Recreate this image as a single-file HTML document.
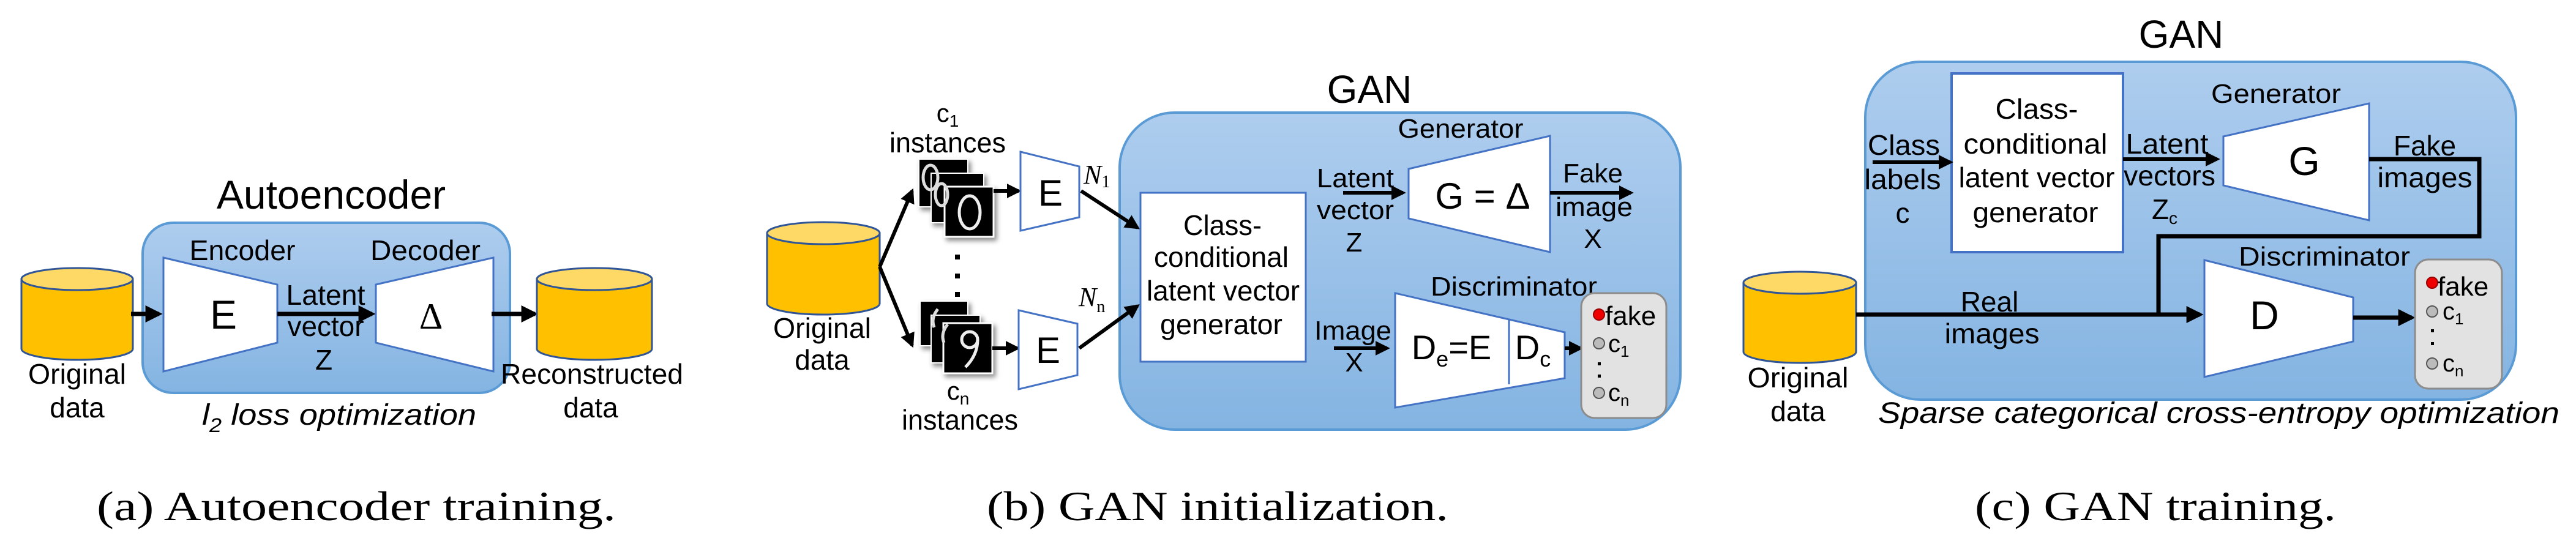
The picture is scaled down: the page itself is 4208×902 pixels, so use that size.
<!DOCTYPE html>
<html><head><meta charset="utf-8"><style>
html,body{margin:0;padding:0;background:#fff;}
svg{display:block;}
text{font-family:"Liberation Sans",sans-serif;fill:#000;}
.s{font-family:"Liberation Serif",serif;}
</style></head><body>
<svg width="4208" height="902" viewBox="0 0 4208 902" xmlns="http://www.w3.org/2000/svg">
<defs>
<linearGradient id="bg" x1="0" y1="0" x2="0" y2="1">
<stop offset="0" stop-color="#aecdee"/><stop offset="1" stop-color="#84b4e2"/>
</linearGradient>
<marker id="ar" markerWidth="4" markerHeight="4" refX="3.2" refY="2" orient="auto" markerUnits="strokeWidth">
<path d="M0,0 L4,2 L0,4 z" fill="#000"/>
</marker>
<filter id="sh" x="-20%" y="-20%" width="150%" height="150%"><feDropShadow dx="4" dy="5" stdDeviation="4" flood-color="#000" flood-opacity="0.45"/></filter>
</defs>

<!-- ============ Panel A ============ -->
<text x="541" y="341" font-size="66" text-anchor="middle">Autoencoder</text>
<rect x="233" y="364" width="600" height="278" rx="50" fill="url(#bg)" stroke="#5b9bd5" stroke-width="4"/>
<path d="M35,456 L35,570 A91,18 0 0 0 217,570 L217,456 Z" fill="#ffc000" stroke="#2f5597" stroke-width="3"/>
<ellipse cx="126" cy="456" rx="91" ry="18" fill="#ffd966" stroke="#2f5597" stroke-width="3"/>
<text x="126" y="627" font-size="46" text-anchor="middle" textLength="160" lengthAdjust="spacingAndGlyphs">Original</text>
<text x="126" y="682" font-size="46" text-anchor="middle">data</text>
<line x1="214" y1="513" x2="260" y2="513" stroke="#000" stroke-width="7" marker-end="url(#ar)"/>
<polygon points="267,421 453,465 453,560 267,607" fill="#fff" stroke="#4472c4" stroke-width="3"/>
<text x="396" y="425" font-size="46" text-anchor="middle" textLength="173" lengthAdjust="spacingAndGlyphs">Encoder</text>
<text x="365" y="537" font-size="66" text-anchor="middle">E</text>
<line x1="453" y1="513" x2="608" y2="513" stroke="#000" stroke-width="7" marker-end="url(#ar)"/>
<text x="532" y="498" font-size="46" text-anchor="middle" textLength="129" lengthAdjust="spacingAndGlyphs">Latent</text>
<text x="532" y="549" font-size="46" text-anchor="middle" textLength="125" lengthAdjust="spacingAndGlyphs">vector</text>
<text x="529" y="604" font-size="46" text-anchor="middle">Z</text>
<polygon points="614,465 806,421 806,607 614,560" fill="#fff" stroke="#4472c4" stroke-width="3"/>
<text x="695" y="425" font-size="46" text-anchor="middle" textLength="180" lengthAdjust="spacingAndGlyphs">Decoder</text>
<text x="704" y="537" font-size="60" text-anchor="middle" class="s">Δ</text>
<line x1="803" y1="513" x2="874" y2="513" stroke="#000" stroke-width="7" marker-end="url(#ar)"/>
<path d="M877,456 L877,570 A94,18 0 0 0 1065,570 L1065,456 Z" fill="#ffc000" stroke="#2f5597" stroke-width="3"/>
<ellipse cx="971" cy="456" rx="94" ry="18" fill="#ffd966" stroke="#2f5597" stroke-width="3"/>
<text x="967" y="627" font-size="46" text-anchor="middle" textLength="298" lengthAdjust="spacingAndGlyphs">Reconstructed</text>
<text x="965" y="682" font-size="46" text-anchor="middle">data</text>
<text x="330" y="694" font-size="48" font-style="italic" textLength="448" lengthAdjust="spacingAndGlyphs">l<tspan font-size="32" dy="12">2</tspan><tspan dy="-12"> loss optimization</tspan></text>
<text x="582" y="850" font-size="68" text-anchor="middle" class="s" textLength="848" lengthAdjust="spacingAndGlyphs">(a) Autoencoder training.</text>

<!-- ============ Panel B ============ -->
<text x="2237" y="168" font-size="64" text-anchor="middle">GAN</text>
<rect x="1829" y="184" width="916" height="518" rx="90" fill="url(#bg)" stroke="#5b9bd5" stroke-width="4"/>
<path d="M1253,381 L1253,496 A92,18 0 0 0 1437,496 L1437,381 Z" fill="#ffc000" stroke="#2f5597" stroke-width="3"/>
<ellipse cx="1345" cy="381" rx="92" ry="18" fill="#ffd966" stroke="#2f5597" stroke-width="3"/>
<text x="1343" y="552" font-size="46" text-anchor="middle" textLength="160" lengthAdjust="spacingAndGlyphs">Original</text>
<text x="1343" y="604" font-size="46" text-anchor="middle">data</text>
<line x1="1437" y1="436" x2="1490" y2="312" stroke="#000" stroke-width="6" marker-end="url(#ar)"/>
<line x1="1437" y1="436" x2="1490" y2="564" stroke="#000" stroke-width="6" marker-end="url(#ar)"/>
<text x="1548" y="199" font-size="42" text-anchor="middle">c<tspan font-size="28" dy="8">1</tspan></text>
<text x="1548" y="249" font-size="46" text-anchor="middle" textLength="190" lengthAdjust="spacingAndGlyphs">instances</text>
<g filter="url(#sh)">
<rect x="1501" y="260" width="80" height="78" fill="#000" stroke="#fff" stroke-width="2"/>
<rect x="1521" y="283" width="86" height="81" fill="#000" stroke="#fff" stroke-width="2"/>
<rect x="1543" y="305" width="80" height="82" fill="#000" stroke="#fff" stroke-width="3"/>
</g>
<ellipse cx="1520" cy="290" rx="12" ry="20" fill="none" stroke="#ddd" stroke-width="5"/>
<ellipse cx="1538" cy="318" rx="10" ry="18" fill="none" stroke="#ddd" stroke-width="5"/>
<ellipse cx="1584" cy="347" rx="17" ry="27" fill="none" stroke="#eee" stroke-width="5"/>
<rect x="1560" y="416" width="8" height="8" fill="#000"/>
<rect x="1560" y="447" width="8" height="8" fill="#000"/>
<rect x="1560" y="477" width="8" height="8" fill="#000"/>
<g filter="url(#sh)">
<rect x="1503" y="492" width="78" height="73" fill="#000" stroke="#fff" stroke-width="2"/>
<rect x="1521" y="515" width="80" height="78" fill="#000" stroke="#fff" stroke-width="2"/>
<rect x="1541" y="528" width="80" height="82" fill="#000" stroke="#fff" stroke-width="3"/>
</g>
<path d="M1532,505 q-12,15 -6,30" fill="none" stroke="#ddd" stroke-width="5"/>
<path d="M1548,530 q-12,15 -6,30" fill="none" stroke="#ddd" stroke-width="5"/>
<circle cx="1584" cy="555" r="13" fill="none" stroke="#eee" stroke-width="5"/>
<path d="M1597,555 q0,25 -20,45" fill="none" stroke="#eee" stroke-width="5"/>
<line x1="1623" y1="312" x2="1664" y2="312" stroke="#000" stroke-width="6" marker-end="url(#ar)"/>
<line x1="1621" y1="569" x2="1662" y2="569" stroke="#000" stroke-width="6" marker-end="url(#ar)"/>
<text x="1565" y="653" font-size="42" text-anchor="middle">c<tspan font-size="28" dy="8">n</tspan></text>
<text x="1568" y="702" font-size="46" text-anchor="middle" textLength="190" lengthAdjust="spacingAndGlyphs">instances</text>
<polygon points="1667,248 1763,272 1763,355 1667,377" fill="#fff" stroke="#4472c4" stroke-width="3"/>
<text x="1716" y="336" font-size="60" text-anchor="middle">E</text>
<polygon points="1664,507 1760,529 1760,613 1664,636" fill="#fff" stroke="#4472c4" stroke-width="3"/>
<text x="1712" y="593" font-size="60" text-anchor="middle">E</text>
<text x="1770" y="300" font-size="44" font-style="italic" class="s">N<tspan font-size="28" dy="6" font-style="normal">1</tspan></text>
<text x="1762" y="500" font-size="44" font-style="italic" class="s">N<tspan font-size="28" dy="10" font-style="normal">n</tspan></text>
<line x1="1766" y1="312" x2="1858" y2="372" stroke="#000" stroke-width="6" marker-end="url(#ar)"/>
<line x1="1763" y1="569" x2="1858" y2="500" stroke="#000" stroke-width="6" marker-end="url(#ar)"/>
<rect x="1863" y="315" width="270" height="276" fill="#fff" stroke="#4472c4" stroke-width="3"/>
<text x="1997" y="384" font-size="46" text-anchor="middle" textLength="128" lengthAdjust="spacingAndGlyphs">Class-</text>
<text x="1995" y="436" font-size="46" text-anchor="middle" textLength="220" lengthAdjust="spacingAndGlyphs">conditional</text>
<text x="1998" y="491" font-size="46" text-anchor="middle" textLength="250" lengthAdjust="spacingAndGlyphs">latent vector</text>
<text x="1995" y="546" font-size="46" text-anchor="middle" textLength="200" lengthAdjust="spacingAndGlyphs">generator</text>
<polygon points="2301,276 2532,222 2532,412 2301,357" fill="#fff" stroke="#4472c4" stroke-width="3"/>
<text x="2386" y="225" font-size="44" text-anchor="middle" textLength="205" lengthAdjust="spacingAndGlyphs">Generator</text>
<text x="2422" y="341" font-size="60" text-anchor="middle">G = Δ</text>
<line x1="2194" y1="315" x2="2292" y2="315" stroke="#000" stroke-width="6" marker-end="url(#ar)"/>
<text x="2214" y="306" font-size="44" text-anchor="middle" textLength="126" lengthAdjust="spacingAndGlyphs">Latent</text>
<text x="2214" y="358" font-size="44" text-anchor="middle" textLength="126" lengthAdjust="spacingAndGlyphs">vector</text>
<text x="2212" y="411" font-size="44" text-anchor="middle">Z</text>
<line x1="2532" y1="315" x2="2664" y2="315" stroke="#000" stroke-width="6" marker-end="url(#ar)"/>
<text x="2602" y="298" font-size="44" text-anchor="middle">Fake</text>
<text x="2604" y="353" font-size="44" text-anchor="middle" textLength="126" lengthAdjust="spacingAndGlyphs">image</text>
<text x="2602" y="405" font-size="44" text-anchor="middle">X</text>
<polygon points="2279,479 2556,543 2556,618 2279,666" fill="#fff" stroke="#4472c4" stroke-width="3"/>
<line x1="2465" y1="522" x2="2465" y2="628" stroke="#4472c4" stroke-width="3"/>
<text x="2473" y="483" font-size="44" text-anchor="middle" textLength="272" lengthAdjust="spacingAndGlyphs">Discriminator</text>
<text x="2371" y="587" font-size="56" text-anchor="middle">D<tspan font-size="36" dy="12">e</tspan><tspan dy="-12">=E</tspan></text>
<text x="2504" y="587" font-size="56" text-anchor="middle">D<tspan font-size="36" dy="12">c</tspan></text>
<line x1="2179" y1="569" x2="2266" y2="569" stroke="#000" stroke-width="6" marker-end="url(#ar)"/>
<text x="2210" y="555" font-size="44" text-anchor="middle" textLength="126" lengthAdjust="spacingAndGlyphs">Image</text>
<text x="2212" y="607" font-size="44" text-anchor="middle">X</text>
<line x1="2556" y1="569" x2="2582" y2="569" stroke="#000" stroke-width="6" marker-end="url(#ar)"/>
<rect x="2583" y="479" width="139" height="204" rx="22" fill="#e2e2e2" stroke="#8c8c8c" stroke-width="3"/>
<circle cx="2612" cy="514" r="9" fill="#e00" stroke="#900" stroke-width="2"/>
<text x="2622" y="531" font-size="44">fake</text>
<circle cx="2612" cy="561" r="9" fill="#bbb" stroke="#555" stroke-width="2"/>
<text x="2627" y="575" font-size="40">c<tspan font-size="26" dy="8">1</tspan></text>
<rect x="2610" y="592" width="5" height="5" fill="#000"/>
<rect x="2610" y="612" width="5" height="5" fill="#000"/>
<circle cx="2612" cy="642" r="9" fill="#bbb" stroke="#555" stroke-width="2"/>
<text x="2627" y="655" font-size="40">c<tspan font-size="26" dy="8">n</tspan></text>
<text x="1989" y="850" font-size="68" text-anchor="middle" class="s" textLength="754" lengthAdjust="spacingAndGlyphs">(b) GAN initialization.</text>

<!-- ============ Panel C ============ -->
<text x="3563" y="78" font-size="64" text-anchor="middle">GAN</text>
<rect x="3047" y="101" width="1063" height="552" rx="90" fill="url(#bg)" stroke="#5b9bd5" stroke-width="4"/>
<rect x="3188" y="120" width="280" height="292" fill="#fff" stroke="#4472c4" stroke-width="4"/>
<text x="3327" y="194" font-size="46" text-anchor="middle" textLength="135" lengthAdjust="spacingAndGlyphs">Class-</text>
<text x="3325" y="251" font-size="46" text-anchor="middle" textLength="235" lengthAdjust="spacingAndGlyphs">conditional</text>
<text x="3327" y="306" font-size="46" text-anchor="middle" textLength="255" lengthAdjust="spacingAndGlyphs">latent vector</text>
<text x="3325" y="363" font-size="46" text-anchor="middle" textLength="205" lengthAdjust="spacingAndGlyphs">generator</text>
<line x1="3059" y1="265" x2="3186" y2="265" stroke="#000" stroke-width="6" marker-end="url(#ar)"/>
<text x="3110" y="253" font-size="46" text-anchor="middle" textLength="118" lengthAdjust="spacingAndGlyphs">Class</text>
<text x="3108" y="309" font-size="46" text-anchor="middle" textLength="125" lengthAdjust="spacingAndGlyphs">labels</text>
<text x="3108" y="364" font-size="46" text-anchor="middle">c</text>
<line x1="3468" y1="260" x2="3622" y2="260" stroke="#000" stroke-width="6" marker-end="url(#ar)"/>
<text x="3540" y="251" font-size="46" text-anchor="middle" textLength="135" lengthAdjust="spacingAndGlyphs">Latent</text>
<text x="3544" y="303" font-size="46" text-anchor="middle" textLength="150" lengthAdjust="spacingAndGlyphs">vectors</text>
<text x="3536" y="358" font-size="46" text-anchor="middle">Z<tspan font-size="28" dy="8">c</tspan></text>
<polygon points="3632,223 3870,169 3870,360 3632,303" fill="#fff" stroke="#4472c4" stroke-width="3"/>
<text x="3718" y="168" font-size="44" text-anchor="middle" textLength="212" lengthAdjust="spacingAndGlyphs">Generator</text>
<text x="3764" y="286" font-size="66" text-anchor="middle">G</text>
<polyline points="3870,260 4050,260 4050,386 3526,386 3526,514" fill="none" stroke="#000" stroke-width="7"/>
<text x="3961" y="254" font-size="46" text-anchor="middle">Fake</text>
<text x="3961" y="306" font-size="46" text-anchor="middle" textLength="155" lengthAdjust="spacingAndGlyphs">images</text>
<path d="M2848,462 L2848,575 A92,18 0 0 0 3032,575 L3032,462 Z" fill="#ffc000" stroke="#2f5597" stroke-width="3"/>
<ellipse cx="2940" cy="462" rx="92" ry="18" fill="#ffd966" stroke="#2f5597" stroke-width="3"/>
<text x="2937" y="633" font-size="46" text-anchor="middle" textLength="165" lengthAdjust="spacingAndGlyphs">Original</text>
<text x="2937" y="688" font-size="46" text-anchor="middle">data</text>
<line x1="3032" y1="514" x2="3594" y2="514" stroke="#000" stroke-width="7" marker-end="url(#ar)"/>
<text x="3250" y="509" font-size="46" text-anchor="middle">Real</text>
<text x="3254" y="561" font-size="46" text-anchor="middle" textLength="155" lengthAdjust="spacingAndGlyphs">images</text>
<polygon points="3601,425 3844,486 3844,558 3601,616" fill="#fff" stroke="#4472c4" stroke-width="3"/>
<text x="3797" y="434" font-size="44" text-anchor="middle" textLength="280" lengthAdjust="spacingAndGlyphs">Discriminator</text>
<text x="3699" y="538" font-size="66" text-anchor="middle">D</text>
<line x1="3844" y1="519" x2="3940" y2="519" stroke="#000" stroke-width="7" marker-end="url(#ar)"/>
<rect x="3945" y="424" width="142" height="211" rx="22" fill="#e2e2e2" stroke="#8c8c8c" stroke-width="3"/>
<circle cx="3973" cy="462" r="9" fill="#e00" stroke="#900" stroke-width="2"/>
<text x="3982" y="483" font-size="44">fake</text>
<circle cx="3973" cy="509" r="9" fill="#bbb" stroke="#555" stroke-width="2"/>
<text x="3990" y="522" font-size="40">c<tspan font-size="26" dy="8">1</tspan></text>
<rect x="3971" y="538" width="5" height="5" fill="#000"/>
<rect x="3971" y="559" width="5" height="5" fill="#000"/>
<circle cx="3973" cy="594" r="9" fill="#bbb" stroke="#555" stroke-width="2"/>
<text x="3990" y="607" font-size="40">c<tspan font-size="26" dy="8">n</tspan></text>
<text x="3068" y="691" font-size="48" font-style="italic" textLength="1113" lengthAdjust="spacingAndGlyphs">Sparse categorical cross-entropy optimization</text>
<text x="3521" y="850" font-size="68" text-anchor="middle" class="s" textLength="590" lengthAdjust="spacingAndGlyphs">(c) GAN training.</text>
</svg>
</body></html>
